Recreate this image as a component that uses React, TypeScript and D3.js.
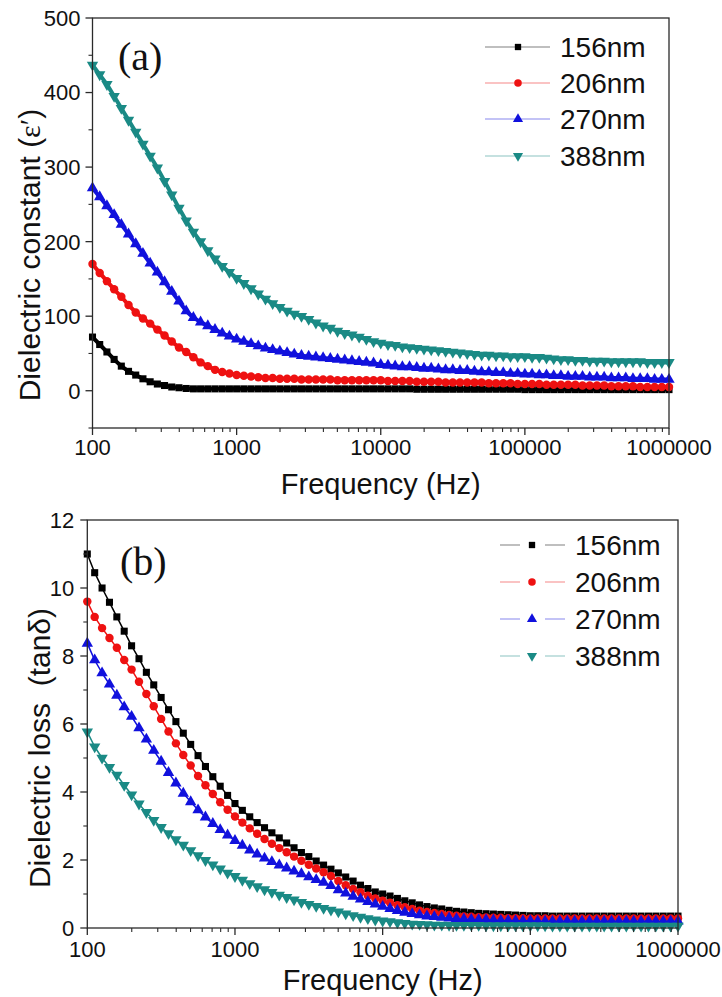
import React from "react";
import * as d3 from "d3";

// ---------- DATA ----------
const freq = [100,112.2,125.9,141.3,158.5,177.8,199.5,223.9,251.2,281.8,316.2,354.8,398.1,446.7,501.2,562.3,631,707.9,794.3,891.3,
1000,1122,1259,1413,1585,1778,1995,2239,2512,2818,3162,3548,3981,4467,5012,5623,6310,7079,7943,8913,
10000,11220,12590,14130,15850,17780,19950,22390,25120,28180,31620,35480,39810,44670,50120,56230,63100,70790,79430,89130,
100000,112200,125900,141300,158500,177800,199500,223900,251200,281800,316200,354800,398100,446700,501200,562300,631000,707900,794300,891300,1000000];

const seriesNames = ["156nm", "206nm", "270nm", "388nm"];
const xTickLabels = ["100", "1000", "10000", "100000", "1000000"];
const epsTicks = [0, 100, 200, 300, 400, 500];
const tanTicks = [0, 2, 4, 6, 8, 10, 12];

// Dielectric constant (top panel)
const eps156 = [72,62,52,42,33,26,21,16,12,9,7,5,4,3,2.5,2.5,2.5,2.5,2.5,2.5,
2.5,2.5,2.5,2.5,2.5,2.5,2.5,2.5,2.5,2.5,2.5,2.5,2.5,2.5,2.5,2.5,2.5,2.5,2.5,2.5,
2.5,2.5,2.5,2.5,2.5,2,2,2,2,2,2,2,2,2,2,2,2,2,2,2,
1.5,1.5,1.5,1.5,1.5,1.5,1.5,1.5,1.5,1.5,1.5,1.5,1.5,1.5,1.5,1.5,1.5,1.5,1.5,1.5,1.5];
const eps206 = [170,158,147,136,126,115,105,97,90,82,74,66,58,52,45,38,33,28,25,23,
21,20,19,18,17,17,16,16,16,15,15,15,15,15,14,14,14,14,14,14,
14,13,13,13,13,12,12,12,12,11,11,11,11,11,11,10,10,10,10,9,
9,9,9,8,8,8,8,8,7,7,7,7,6,6,6,6,5,5,5,5,5];
const eps270 = [272,260,248,236,223,210,197,184,171,159,146,133,120,107,98,92,87,82,77,73,
69,66,63,60,57,55,53,51,49,47,46,45,44,43,42,41,40,39,38,37,
35,34,33,32,32,31,30,30,29,28,28,27,27,26,25,25,24,24,23,23,
22,22,21,21,20,20,19,19,19,18,18,18,17,17,17,16,16,16,15,15,15];
const eps388 = [437,424,411,395,379,363,347,331,315,299,281,263,245,228,213,200,188,177,167,159,
151,144,137,130,123,117,112,107,103,100,96,91,87,84,80,77,75,72,69,66,
64,62,61,59,58,57,56,55,54,53,52,51,50,49,48,48,47,47,46,46,
46,45,45,44,43,42,42,41,41,40,40,40,39,39,39,39,39,38,38,38,38];

// Dielectric loss (bottom panel)
const tan156 = [11.0,10.45,10.0,9.58,9.15,8.73,8.3,7.92,7.52,7.15,6.78,6.42,6.07,5.73,5.4,5.07,4.75,4.45,4.17,3.9,
3.66,3.46,3.27,3.1,2.95,2.8,2.65,2.5,2.36,2.22,2.1,1.97,1.85,1.73,1.62,1.5,1.38,1.26,1.16,1.06,
1.0,0.94,0.87,0.8,0.74,0.68,0.63,0.59,0.56,0.52,0.49,0.47,0.45,0.43,0.42,0.41,0.4,0.39,0.38,0.37,
0.36,0.36,0.36,0.35,0.35,0.35,0.35,0.35,0.35,0.35,0.35,0.35,0.35,0.35,0.35,0.35,0.35,0.35,0.35,0.35,0.35];
const tan206 = [9.6,9.15,8.82,8.53,8.24,7.88,7.6,7.24,6.88,6.52,6.15,5.78,5.43,5.09,4.78,4.47,4.2,3.94,3.7,3.48,
3.28,3.1,2.93,2.77,2.62,2.48,2.35,2.23,2.1,1.98,1.86,1.75,1.64,1.53,1.38,1.26,1.15,1.05,0.95,0.87,
0.8,0.74,0.67,0.61,0.56,0.51,0.47,0.44,0.41,0.38,0.36,0.34,0.33,0.32,0.31,0.3,0.3,0.29,0.29,0.29,
0.28,0.28,0.28,0.28,0.28,0.28,0.28,0.28,0.28,0.28,0.28,0.28,0.28,0.28,0.28,0.28,0.28,0.28,0.28,0.28,0.28];
const tan270 = [8.37,7.88,7.5,7.17,6.84,6.5,6.22,5.88,5.55,5.22,4.9,4.57,4.26,3.96,3.71,3.47,3.26,3.07,2.89,2.73,
2.57,2.43,2.29,2.17,2.05,1.95,1.85,1.76,1.67,1.59,1.5,1.42,1.34,1.24,1.12,1.02,0.93,0.85,0.77,0.7,
0.63,0.57,0.51,0.46,0.42,0.38,0.35,0.33,0.31,0.29,0.27,0.26,0.25,0.24,0.24,0.23,0.22,0.22,0.21,0.21,
0.21,0.2,0.2,0.2,0.2,0.2,0.2,0.2,0.2,0.2,0.2,0.2,0.2,0.2,0.2,0.2,0.2,0.2,0.2,0.2,0.2];
const tan388 = [5.77,5.33,5.0,4.73,4.5,4.2,3.92,3.65,3.4,3.17,2.96,2.78,2.6,2.44,2.28,2.13,1.99,1.86,1.74,1.62,
1.52,1.41,1.31,1.22,1.13,1.05,0.97,0.9,0.83,0.76,0.7,0.64,0.58,0.53,0.48,0.42,0.37,0.32,0.28,0.24,
0.21,0.19,0.16,0.14,0.12,0.11,0.1,0.09,0.09,0.08,0.08,0.08,0.08,0.08,0.07,0.07,0.07,0.07,0.07,0.07,
0.07,0.07,0.07,0.06,0.06,0.06,0.06,0.06,0.06,0.06,0.06,0.06,0.06,0.06,0.06,0.06,0.06,0.06,0.06,0.06,0.06];

// ---------- STYLE ----------
const COLORS = ["#000000", "#ee1111", "#1111dd", "#1a8a85"];
const SANS = "'Liberation Sans', Arial, sans-serif";
const SERIF = "'Liberation Serif', 'Times New Roman', serif";

const symbolGen = (i: number, scale: number) => {
  const types = [d3.symbolSquare, d3.symbolCircle, d3.symbolTriangle, d3.symbolTriangle];
  const sizes = [50, 56, 56, 56];
  return d3.symbol().type(types[i]).size(sizes[i] * scale)() as string;
};
const symbolRot = [0, 0, 0, 180];

function Marker({ i, x, y, scale = 1 }: { i: number; x: number; y: number; scale?: number }) {
  return (
    <path
      d={symbolGen(i, scale)}
      transform={`translate(${x},${y}) rotate(${symbolRot[i]})`}
      fill={COLORS[i]}
    />
  );
}

type PanelProps = {
  left: number; right: number; top: number; bottom: number;
  yDomain: [number, number]; yTicks: number[]; yMinorStep: number;
  data: number[][]; label: string; labelX: number; labelY: number;
  yTitle: React.ReactNode; yTitleX: number; yTitleY: number;
  tickLabelY: number; xTitleY: number; yLabelGap: number; lineW: number;
  legend: { textX: number; rows: number[]; lineL: number; lineR: number; mx: number; gap: boolean };
};

function Panel(p: PanelProps) {
  const x = d3.scaleLog().domain([100, 1e6]).range([p.left, p.right]);
  const y = d3.scaleLinear().domain(p.yDomain).range([p.bottom, p.top]);
  const line = d3.line<number>().x((_, k) => x(freq[k])).y((v) => y(v));
  const majorX = [100, 1000, 10000, 100000, 1000000];
  const minorX: number[] = [];
  for (let d = 100; d < 1e6; d *= 10) for (let m = 2; m <= 9; m++) minorX.push(d * m);
  const minorY: number[] = [];
  for (let v = p.yDomain[0]; v <= p.yDomain[1] + 1e-9; v += p.yMinorStep)
    if (!p.yTicks.some((t) => Math.abs(t - v) < 1e-9)) minorY.push(v);
  const axisColor = "#2a2a2a";
  return (
    <g>
      {p.data.map((s, i) => (
        <g key={i}>
          <path d={line(s) as string} fill="none" stroke={COLORS[i]} strokeWidth={p.lineW} strokeLinejoin="round" />
          {s.map((v, k) => (
            <Marker key={k} i={i} x={x(freq[k])} y={y(v)} />
          ))}
        </g>
      ))}
      <rect x={p.left} y={p.top} width={p.right - p.left} height={p.bottom - p.top}
        fill="none" stroke={axisColor} strokeWidth={1.3} />
      {majorX.map((t, k) => (
        <g key={"mx" + k}>
          <line x1={x(t)} x2={x(t)} y1={p.bottom} y2={p.bottom + 7} stroke={axisColor} strokeWidth={1.3} />
          <text x={x(t)} y={p.tickLabelY} textAnchor="middle" fontFamily={SANS} fontSize={22} fill="#111">
            {xTickLabels[k]}
          </text>
        </g>
      ))}
      {minorX.map((t, k) => (
        <line key={"nx" + k} x1={x(t)} x2={x(t)} y1={p.bottom} y2={p.bottom + 4} stroke={axisColor} strokeWidth={1.1} />
      ))}
      {p.yTicks.map((t, k) => (
        <g key={"my" + k}>
          <line x1={p.left - 7} x2={p.left} y1={y(t)} y2={y(t)} stroke={axisColor} strokeWidth={1.3} />
          <text x={p.left - p.yLabelGap} y={y(t)} dy="0.36em" textAnchor="end" fontFamily={SANS} fontSize={22} fill="#111">
            {t}
          </text>
        </g>
      ))}
      {minorY.map((t, k) => (
        <line key={"ny" + k} x1={p.left - 4} x2={p.left} y1={y(t)} y2={y(t)} stroke={axisColor} strokeWidth={1.1} />
      ))}
      <text x={(p.left + p.right) / 2} y={p.xTitleY} textAnchor="middle" fontFamily={SANS} fontSize={29} fill="#111">
        Frequency (Hz)
      </text>
      <text transform={`translate(${p.yTitleX},${p.yTitleY}) rotate(-90)`} textAnchor="middle"
        fontFamily={SANS} fontSize={30} fill="#111" style={{ whiteSpace: "pre" }}>
        {p.yTitle}
      </text>
      <text x={p.labelX} y={p.labelY} fontFamily={SERIF} fontSize={40} fill="#111">
        {p.label}
      </text>
      {seriesNames.map((n, i) => {
        const ry = p.legend.rows[i];
        const L = p.legend;
        return (
          <g key={"lg" + i}>
            {L.gap ? (
              <>
                <line x1={L.lineL} x2={L.mx - 12} y1={ry} y2={ry} stroke={COLORS[i]} strokeOpacity={0.5} strokeWidth={1} />
                <line x1={L.mx + 13} x2={L.lineR} y1={ry} y2={ry} stroke={COLORS[i]} strokeOpacity={0.5} strokeWidth={1} />
              </>
            ) : (
              <line x1={L.lineL} x2={L.lineR} y1={ry} y2={ry} stroke={COLORS[i]} strokeOpacity={0.5} strokeWidth={1} />
            )}
            <Marker i={i} x={L.mx} y={ry} scale={0.8} />
            <text x={L.textX} y={ry} dy="0.36em" fontFamily={SANS} fontSize={28} fill="#111">
              {n}
            </text>
          </g>
        );
      })}
    </g>
  );
}

export default function App() {
  return (
    <svg width={722} height={997} viewBox="0 0 722 997"
      style={{ position: "absolute", left: 0, top: 0, background: "#fff" }}>
      <rect width={722} height={997} fill="#fff" />
      <Panel
        left={92.5} right={669} top={18} bottom={428}
        yDomain={[-50, 500]} yTicks={epsTicks} yMinorStep={50}
        data={[eps156, eps206, eps270, eps388]}
        label="(a)" labelX={118} labelY={70}
        yTitle={<>Dielectric constant (<tspan fontFamily={SERIF}>ε′</tspan>)</>}
        yTitleX={40} yTitleY={255}
        tickLabelY={455} xTitleY={494} yLabelGap={12} lineW={4}
        legend={{ textX: 560, rows: [47, 83, 119, 156], lineL: 485, lineR: 550, mx: 518, gap: false }}
      />
      <Panel
        left={87.3} right={678} top={520} bottom={928}
        yDomain={[0, 12]} yTicks={tanTicks} yMinorStep={1}
        data={[tan156, tan206, tan270, tan388]}
        label="(b)" labelX={120} labelY={575}
        yTitle={"Dielectric loss  (tanδ)"}
        yTitleX={50} yTitleY={748}
        tickLabelY={957} xTitleY={990} yLabelGap={13} lineW={1.5}
        legend={{ textX: 575, rows: [545, 582, 619, 656], lineL: 500, lineR: 565, mx: 532, gap: true }}
      />
    </svg>
  );
}
